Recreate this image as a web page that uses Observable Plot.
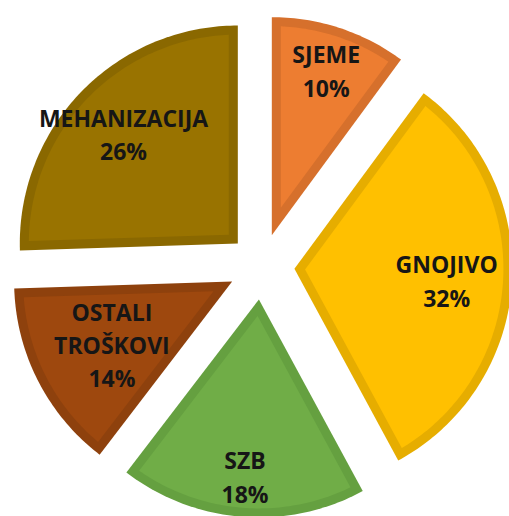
<!DOCTYPE html>
<html>
<head>
<meta charset="utf-8">
<script src="https://cdn.jsdelivr.net/npm/d3@7"></script>
<script src="https://cdn.jsdelivr.net/npm/@observablehq/plot@0.6"></script>
<style>
  html, body { margin: 0; padding: 0; background: #ffffff; }
  #chart svg { display: block; }
</style>
</head>
<body>
<div id="chart"></div>
<script>
// ---- data ----
const categories = ["SJEME", "GNOJIVO", "SZB", "OSTALI TROŠKOVI", "MEHANIZACIJA"];
const labelText  = ["SJEME", "GNOJIVO", "SZB", "OSTALI\nTROŠKOVI", "MEHANIZACIJA"];
const values     = [10.1, 32.0, 18.3, 14.1, 25.5];

// ---- styles / layout ----
const fillColors   = ["#ED7D31", "#FFC000", "#70AD47", "#9E480E", "#997300"];
const borderColors = ["#D6702C", "#E6AD00", "#65A040", "#8E410D", "#8A6800"];
const labelRadius  = [0.80, 0.70, 0.81, 0.62, 0.73]; // fraction of radius from slice apex
const pxPerUnit = 218, cx = 261, cy = 266, W = 509, H = 516;
const explode = 33 / pxPerUnit;   // outward offset of each slice
const border = 9 / pxPerUnit;     // inner border width

const pie = d3.pie().sort(null).value(d => d)(values);
const total = d3.sum(values);

const outerPts = [];
const innerPts = [];
const labelPts = [];
pie.forEach((p, i) => {
  const a0 = p.startAngle, a1 = p.endAngle;
  const mid = (a0 + a1) / 2, half = (a1 - a0) / 2;
  const ox = explode * Math.sin(mid), oy = explode * Math.cos(mid);
  const name = categories[i];
  const n = Math.max(4, Math.ceil((a1 - a0) / (Math.PI / 180)));
  // outer (border colour) wedge
  outerPts.push({name, x: ox, y: oy, c: borderColors[i]});
  for (let k = 0; k <= n; k++) {
    const a = a0 + (a1 - a0) * k / n;
    outerPts.push({name, x: ox + Math.sin(a), y: oy + Math.cos(a), c: borderColors[i]});
  }
  outerPts.push({name, x: ox, y: oy, c: borderColors[i]});
  // inner (fill colour) wedge, inset by border
  const ia = border / Math.sin(Math.min(half, Math.PI / 2));
  const ix = ox + ia * Math.sin(mid), iy = oy + ia * Math.cos(mid);
  const rIn = 1 - border;
  const d = Math.asin(border / rIn);
  innerPts.push({name, x: ix, y: iy, c: fillColors[i]});
  for (let k = 0; k <= n; k++) {
    const a = (a0 + d) + ((a1 - d) - (a0 + d)) * k / n;
    innerPts.push({name, x: ox + rIn * Math.sin(a), y: oy + rIn * Math.cos(a), c: fillColors[i]});
  }
  innerPts.push({name, x: ix, y: iy, c: fillColors[i]});
  const r = labelRadius[i];
  labelPts.push({
    x: ox + r * Math.sin(mid),
    y: oy + r * Math.cos(mid),
    text: labelText[i] + "\n" + Math.round(p.value / total * 100) + "%"
  });
});

const chart = Plot.plot({
  width: W,
  height: H,
  margin: 0,
  x: {domain: [-cx / pxPerUnit, (W - cx) / pxPerUnit], axis: null},
  y: {domain: [-(H - cy) / pxPerUnit, cy / pxPerUnit], axis: null},
  color: {type: "identity"},
  style: {background: "#ffffff"},
  marks: [
    Plot.line(outerPts, {x: "x", y: "y", z: "name", fill: "c", stroke: null, curve: "linear"}),
    Plot.line(innerPts, {x: "x", y: "y", z: "name", fill: "c", stroke: null, curve: "linear"}),
    Plot.text(labelPts, {
      x: "x", y: "y", text: "text",
      fontFamily: "'Open Sans', Lato, sans-serif",
      fontWeight: "bold",
      fontSize: 23,
      lineHeight: 1.45,
      fill: "#161616",
      textAnchor: "middle",
      lineAnchor: "middle"
    })
  ]
});
document.getElementById("chart").appendChild(chart);
</script>
</body>
</html>
